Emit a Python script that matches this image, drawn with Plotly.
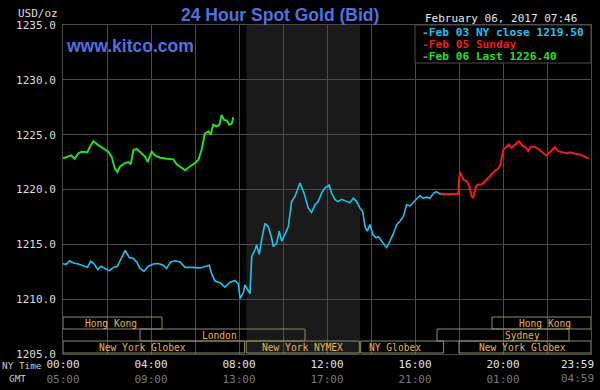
import plotly.graph_objects as go

# ---------------- data ----------------
feb03_hours = [0.0, 0.15, 0.30, 0.48, 0.70, 0.93, 1.11, 1.26, 1.42, 1.58, 1.73, 1.91, 2.11, 2.29, 2.47,
               2.67, 2.83, 3.01, 3.20, 3.35, 3.50, 3.68, 3.88, 4.11, 4.33, 4.56, 4.71, 4.90, 5.09, 5.32,
               5.55, 5.85, 6.23, 6.65, 6.76, 6.91, 7.14, 7.36, 7.59, 7.82, 7.97, 8.05, 8.20, 8.27, 8.50,
               8.58, 8.73, 8.80, 8.92, 9.03, 9.18, 9.33, 9.48, 9.56, 9.71, 9.83, 9.94, 10.09, 10.24,
               10.39, 10.55, 10.77, 10.95, 11.15, 11.30, 11.45, 11.60, 11.76, 11.91, 12.10, 12.20, 12.36,
               12.50, 12.66, 12.89, 13.04, 13.20, 13.35, 13.50, 13.62, 13.73, 13.83, 13.95, 14.08, 14.23,
               14.34, 14.48, 14.64, 14.71, 14.86, 15.00, 15.17, 15.32, 15.47, 15.62, 15.77, 15.92, 16.07,
               16.23, 16.38, 16.53, 16.68, 16.86, 16.98, 17.13, 17.21]
feb03_price = [1213.23, 1213.17, 1213.5, 1213.3, 1213.2, 1213.0, 1212.9, 1213.45, 1213.2, 1212.7, 1213.0,
               1212.8, 1212.6, 1212.9, 1213.0, 1213.8, 1214.45, 1213.8, 1213.7, 1213.4, 1212.8, 1212.55,
               1213.0, 1213.2, 1213.25, 1213.1, 1212.8, 1213.4, 1213.5, 1213.4, 1212.9, 1212.9, 1212.85,
               1213.1, 1212.3, 1211.65, 1211.5, 1211.1, 1211.55, 1211.7, 1211.4, 1210.06, 1210.6, 1211.3,
               1210.5, 1213.9, 1214.5, 1214.95, 1214.1, 1215.4, 1216.9, 1216.6, 1215.6, 1214.8, 1215.1,
               1216.2, 1215.3, 1215.9, 1216.6, 1218.9, 1219.4, 1220.6, 1219.7, 1218.3, 1217.9, 1218.6,
               1218.9, 1219.7, 1220.15, 1220.4, 1219.7, 1219.1, 1218.9, 1219.1, 1218.9, 1218.8, 1219.2,
               1218.9, 1218.3, 1218.0, 1216.6, 1216.2, 1216.8, 1215.9, 1215.6, 1215.7, 1215.3, 1214.95,
               1214.7, 1215.3, 1215.9, 1216.8, 1217.1, 1217.55, 1218.6, 1218.5, 1218.8, 1219.1, 1219.45,
               1219.2, 1219.3, 1219.2, 1219.7, 1219.8, 1219.6, 1219.6]

feb05_hours = [17.21, 17.97, 18.00, 18.05, 18.20, 18.35, 18.47, 18.57, 18.65, 18.77, 18.88, 19.03, 19.18,
               19.33, 19.48, 19.64, 19.79, 19.89, 20.01, 20.14, 20.27, 20.39, 20.55, 20.73, 20.89, 21.05,
               21.15, 21.26, 21.41, 21.53, 21.68, 21.83, 21.98, 22.14, 22.36, 22.51, 22.67, 22.89, 23.07,
               23.27, 23.50, 23.72, 23.92]
feb05_price = [1219.6, 1219.6, 1220.9, 1221.6, 1220.9, 1220.75, 1220.3, 1219.4, 1219.25, 1220.3, 1220.45,
               1220.45, 1220.75, 1221.05, 1221.3, 1221.7, 1221.9, 1222.3, 1223.6, 1223.9, 1224.1, 1223.8,
               1224.1, 1224.4, 1224.0, 1223.8, 1223.5, 1223.9, 1223.9, 1223.8, 1223.6, 1223.3, 1223.1,
               1223.4, 1223.85, 1223.5, 1223.4, 1223.3, 1223.4, 1223.25, 1223.2, 1223.0, 1222.8]

feb06_hours = [0.0, 0.23, 0.38, 0.53, 0.70, 0.85, 1.11, 1.23, 1.38, 1.61, 1.83, 2.06, 2.21, 2.36, 2.47,
               2.59, 2.82, 2.97, 3.08, 3.20, 3.35, 3.50, 3.73, 3.85, 4.03, 4.18, 4.41, 4.71, 5.02, 5.17,
               5.39, 5.55, 5.77, 6.00, 6.15, 6.30, 6.45, 6.61, 6.71, 6.83, 6.98, 7.11, 7.21, 7.32, 7.44,
               7.56, 7.67, 7.74]
feb06_price = [1222.84, 1223.0, 1223.1, 1222.8, 1223.3, 1223.45, 1223.4, 1223.9, 1224.4, 1224.05, 1223.75,
               1223.45, 1223.0, 1221.9, 1221.6, 1222.1, 1222.4, 1222.5, 1222.3, 1223.6, 1223.7, 1223.45,
               1223.0, 1222.5, 1223.45, 1223.1, 1222.9, 1222.8, 1222.75, 1222.3, 1222.0, 1221.75, 1222.1,
               1222.4, 1222.7, 1223.6, 1225.1, 1225.3, 1225.0, 1225.9, 1225.75, 1225.9, 1226.8, 1226.35,
               1226.3, 1225.9, 1226.0, 1226.6]

legend_labels = ["-Feb 03 NY close 1219.50", "-Feb 05 Sunday", "-Feb 06 Last 1226.40"]

ny_ticks = [0, 4, 8, 12, 16, 20, 23.983]
ny_labels = ["00:00", "04:00", "08:00", "12:00", "16:00", "20:00", "23:59"]
gmt_labels = ["05:00", "09:00", "13:00", "17:00", "21:00", "01:00", "04:59"]

nymex_start, nymex_end = 8.333, 13.5

session_names = ["Hong Kong", "Hong Kong", "London", "Sydney",
                 "New York Globex", "New York NYMEX", "NY Globex", "New York Globex"]
session_start = [0.0, 19.5, 3.5, 17.0, 0.0, 8.33, 13.53, 18.0]
session_end = [4.5, 24.0, 11.0, 23.0, 8.25, 13.47, 17.3, 24.0]
session_row = [0, 0, 1, 1, 2, 2, 2, 2]
session_label_at = [2.2, 21.9, 7.1, 20.9, 3.6, 10.9, 15.1, 20.9]

# ---------------- styling / layout ----------------
MONO = "DejaVu Sans Mono"
SANS = "Liberation Sans"
GRID = "#4c4c4c"
BLUE = "#4f72e3"
CYAN = "#1ec4ef"
RED = "#f01c1c"
GREEN = "#22e022"
GOLD = "#e3b84a"
OLIVE = "#8e8c62"
GMT_COL = "#7a7a7a"

W, H = 600, 390
L, R, T, B = 63, 9, 25, 36
PW, PH = W - L - R, H - T - B


def px(x):
    return (x - L) / PW


def py(y):
    return (H - B - y) / PH


fig = go.Figure()
fig.add_trace(go.Scatter(x=feb03_hours, y=feb03_price, mode="lines",
                         line=dict(color=CYAN, width=1.6), hoverinfo="skip"))
fig.add_trace(go.Scatter(x=feb05_hours, y=feb05_price, mode="lines",
                         line=dict(color=RED, width=2), hoverinfo="skip"))
fig.add_trace(go.Scatter(x=feb06_hours, y=feb06_price, mode="lines",
                         line=dict(color=GREEN, width=2), hoverinfo="skip"))

shapes = []
# NYMEX shaded background
shapes.append(dict(type="rect", xref="x", yref="paper", x0=nymex_start, x1=nymex_end, y0=0, y1=1,
                   fillcolor="#1a1a1a", line=dict(width=0), layer="below"))
# legend box
shapes.append(dict(type="rect", xref="x", yref="paper", x0=16.0, x1=24, y0=py(63), y1=1,
                   fillcolor="black", line=dict(color=GRID, width=1), layer="above"))

row_top = [317, 329, 341]
row_h = 12
annotations = []
for name, s, e, r, lab in zip(session_names, session_start, session_end, session_row, session_label_at):
    shapes.append(dict(type="rect", xref="x", yref="paper", x0=s, x1=e,
                       y0=py(row_top[r] + row_h), y1=py(row_top[r]),
                       line=dict(color=OLIVE, width=1), fillcolor="rgba(0,0,0,0)", layer="above"))
    annotations.append(dict(x=lab, xref="x", y=py(row_top[r] + row_h / 2), yref="paper",
                            text=name, showarrow=False, xanchor="center", yanchor="middle",
                            font=dict(family=MONO, size=9.6, color=GOLD)))

annotations += [
    dict(x=px(280), y=py(14.5), xref="paper", yref="paper", text="<b>24 Hour Spot Gold (Bid)</b>",
         showarrow=False, xanchor="center", yanchor="middle", font=dict(family=SANS, size=17.5, color=BLUE)),
    dict(x=px(64), y=py(46), xref="paper", yref="paper", text="<b>www.kitco.com</b>",
         showarrow=False, xanchor="left", yanchor="middle", font=dict(family=SANS, size=17.5, color=BLUE)),
    dict(x=px(60), y=py(13), xref="paper", yref="paper", text="USD/oz",
         showarrow=False, xanchor="right", yanchor="middle", font=dict(family=MONO, size=11, color="#dddddd")),
    dict(x=px(579), y=py(18), xref="paper", yref="paper", text="February 06, 2017 07:46",
         showarrow=False, xanchor="right", yanchor="middle", font=dict(family=MONO, size=11, color="#e6e6e6")),
    dict(x=px(44), y=py(365), xref="paper", yref="paper", text="NY Time",
         showarrow=False, xanchor="right", yanchor="middle", font=dict(family=MONO, size=9.4, color="#cccccc")),
    dict(x=px(28), y=py(378), xref="paper", yref="paper", text="GMT",
         showarrow=False, xanchor="right", yanchor="middle", font=dict(family=MONO, size=9.4, color="#cccccc")),
]
for lab, col, yy in zip(legend_labels, [CYAN, RED, GREEN], [32, 44, 56]):
    annotations.append(dict(x=px(420), y=py(yy), xref="paper", yref="paper", text="<b>" + lab + "</b>",
                            showarrow=False, xanchor="left", yanchor="middle",
                            font=dict(family=MONO, size=11.2, color=col)))

# axis tick labels (the last one, 23:59, is kept inside the canvas as a right-aligned label)
ticktext = []
for i, (a, g) in enumerate(zip(ny_labels, gmt_labels)):
    if i == len(ny_labels) - 1:
        ticktext.append("")
        annotations.append(dict(x=px(596), y=py(371), xref="paper", yref="paper",
                                text=a + "<br><span style='color:" + GMT_COL + "'>" + g + "</span>",
                                showarrow=False, xanchor="right", yanchor="middle", align="right",
                                font=dict(family=MONO, size=11, color="#e0e0e0")))
    else:
        ticktext.append(a + "<br><span style='color:" + GMT_COL + "'>" + g + "</span>")

fig.update_layout(
    width=W, height=H, margin=dict(l=L, r=R, t=T, b=B, autoexpand=False),
    paper_bgcolor="black", plot_bgcolor="black", showlegend=False,
    shapes=shapes, annotations=annotations,
    xaxis=dict(range=[0, 24], tickmode="array", tickvals=ny_ticks, ticktext=ticktext,
               showgrid=False, zeroline=False, showline=True, mirror=True, linecolor=GRID,
               ticks="", tickfont=dict(family=MONO, size=11, color="#e0e0e0"),
               minor=dict(tickmode="linear", tick0=0, dtick=2, showgrid=True, gridcolor=GRID, gridwidth=1),
               automargin=False, fixedrange=True),
    yaxis=dict(range=[1205, 1235], tickmode="linear", tick0=1205, dtick=5, tickformat=".1f",
               showgrid=True, gridcolor=GRID, gridwidth=1, zeroline=False, showline=True, mirror=True,
               linecolor=GRID, ticks="", ticklabelstandoff=4, automargin=False,
               tickfont=dict(family=MONO, size=11, color="#dddddd"), fixedrange=True),
)

fig.write_html("out.html", config={"displayModeBar": False, "staticPlot": True},
               post_script="document.body.style.margin='0px';document.body.style.background='black';")
